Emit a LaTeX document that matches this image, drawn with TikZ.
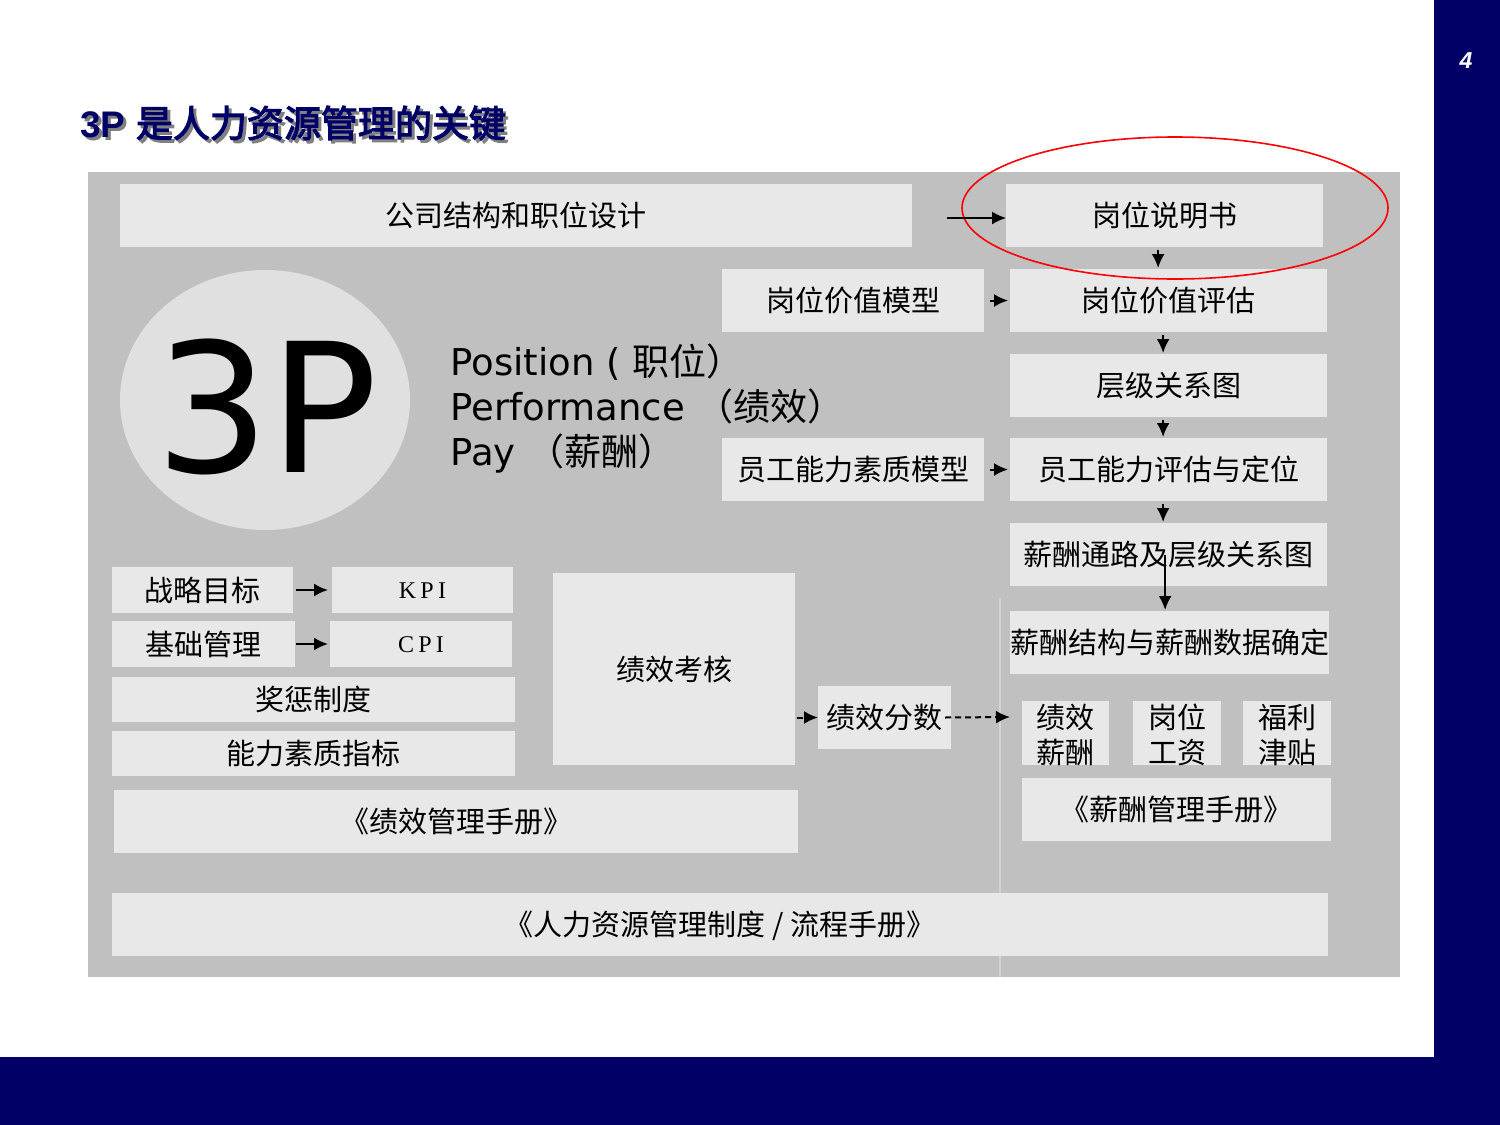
\documentclass[tikz,border=0pt]{standalone}
\usepackage{fontspec}
\usetikzlibrary{arrows.meta}
\newfontfamily\cjk{Noto Sans CJK SC}
\newfontfamily\cjkb[FakeBold=3]{Noto Sans CJK SC}
\newfontfamily\dv{DejaVu Sans}
\newfontfamily\arl{Liberation Sans}
\newfontfamily\tms[LetterSpace=18]{Liberation Serif}
\definecolor{navy}{HTML}{000066}
\definecolor{bgc}{HTML}{C0C0C0}
\definecolor{boxc}{HTML}{E8E8E8}
\definecolor{circc}{HTML}{E0E0E0}
\definecolor{linec}{HTML}{D2D2D2}
\newcommand{\twoline}[2]{\vbox{\baselineskip=17.5pt\lineskiplimit=-10pt\hbox{#1}\hbox{#2}}}
% \mybox[opts]{name}{x1}{y1}{x2}{y2}{text}  (pixel coordinates)
\newcommand{\mybox}[7][]{\node[box,#1,minimum width={(#5-#3)*0.5pt},minimum height={(#6-#4)*0.5pt}] (#2) at ({(#3+#5)/2},{(#4+#6)/2}) {#7};}
\begin{document}
\begin{tikzpicture}[x=0.5pt,y=-0.5pt,
  box/.style={fill=boxc, inner sep=0pt, outer sep=0pt, text=black, text height=11pt, text depth=0pt,
    font=\cjk\fontsize{14.5}{17.5}\selectfont},
  box2/.style={text height=30pt},
  latin/.style={font=\tms\fontsize{12}{14}\selectfont, text height=8pt},
  arr/.style={-{Latex[length=7pt,width=6.5pt]}, line width=1pt, black},
  darr/.style={arr, dash pattern=on 3pt off 2pt},
  ptxt/.style={anchor=base west, inner sep=0pt, font=\fontsize{18.5}{22}\selectfont}]
\useasboundingbox (0,0) rectangle (1500,1125);
% frame
\fill[navy] (1434,0) rectangle (1500,1125);
\fill[navy] (0,1057) rectangle (1500,1125);
\node[anchor=center, text=white, font=\arl\bfseries\itshape\fontsize{11.5}{13}\selectfont] (pg) at (1466,61) {4};
% title
\node[anchor=west, inner sep=0pt, text=black!50, font=\fontsize{18.5}{22}\selectfont] (tsh) at (83,126) {{\arl\bfseries 3P }{\cjkb 是人力资源管理的关键}};
\node[anchor=west, inner sep=0pt, text=navy, font=\fontsize{18.5}{22}\selectfont] (title) at (80,123) {{\arl\bfseries 3P }{\cjkb 是人力资源管理的关键}};
% background
\fill[bgc] (88,172) rectangle (1400,977);
\draw[linec, line width=0.6pt] (1000,598) -- (1000,977);
% 3P circle
\fill[circc] (265,400) ellipse [x radius=72.5pt, y radius=65pt];
\node[inner sep=0pt, font=\dv\fontsize{90}{90}\selectfont] (p3) at (267,407) {3P};
\node[ptxt] (pos) at (450,375) {{\dv Position (}\,\,{\cjk 职位）}};
\node[ptxt] (perf) at (450,420) {{\dv Performance }{\cjk （绩效）}};
\node[ptxt] (pay) at (450,465) {{\dv Pay }{\cjk （薪酬）}};
% right column
\mybox{co}{120}{184}{912}{247}{公司结构和职位设计}
\mybox{jd}{1006}{184}{1323}{247}{岗位说明书}
\mybox{jvm}{722}{269}{984}{332}{岗位价值模型}
\mybox{jve}{1010}{269}{1327}{332}{岗位价值评估}
\mybox{hier}{1010}{354}{1327}{417}{层级关系图}
\mybox{ecm}{722}{438}{984}{501}{员工能力素质模型}
\mybox{ece}{1010}{438}{1327}{501}{员工能力评估与定位}
\mybox{payh}{1010}{523}{1327}{586}{薪酬通路及层级关系图}
\mybox{pays}{1011}{611}{1328}{674}{薪酬结构与薪酬数据确定}
\mybox[box2]{pp}{1022}{701}{1109}{765}{\twoline{绩效}{薪酬}}
\mybox[box2]{jw}{1133}{701}{1221}{765}{\twoline{岗位}{工资}}
\mybox[box2]{ben}{1243}{701}{1331}{765}{\twoline{福利}{津贴}}
\mybox{paym}{1022}{778}{1331}{841}{《薪酬管理手册》}
% performance side
\mybox{strat}{112}{567}{293}{613}{战略目标}
\mybox[latin]{kpi}{332}{567}{513}{613}{KPI}
\mybox{basic}{112}{621}{295}{667}{基础管理}
\mybox[latin]{cpi}{330}{621}{512}{667}{CPI}
\mybox{rew}{112}{677}{515}{722}{奖惩制度}
\mybox{comp}{112}{731}{515}{776}{能力素质指标}
\mybox{pa}{553}{573}{795}{765}{绩效考核}
\mybox{ps}{818}{686}{951}{749}{绩效分数}
\mybox{perfm}{114}{790}{798}{853}{《绩效管理手册》}
\mybox{hrm}{112}{893}{1328}{956}{《人力资源管理制度 / 流程手册》}
% red ellipse
\draw[red, line width=0.8pt] (1175,208) ellipse [x radius=106.5pt, y radius=35.5pt];
% connectors
\coordinate (cos) at (947,218);
\draw[arr, line width=0.8pt] (cos) -- (cos -| jd.west);
\draw[arr, shorten <=1.5pt, shorten >=0.5pt] ([xshift=-3.2pt]jd.south) -- ([xshift=-3.2pt]jd.south |- jve.north);
\draw[arr, shorten <=3pt, shorten >=1pt] (jvm.east) -- (jvm.east -| jve.west);
\draw[arr, shorten <=1.5pt, shorten >=0.5pt] ([xshift=-2.7pt]jve.south) -- ([xshift=-2.7pt]hier.north);
\draw[arr, shorten <=1.5pt, shorten >=0.5pt] ([xshift=-2.7pt]hier.south) -- ([xshift=-2.7pt]ece.north);
\draw[arr, shorten <=3pt, shorten >=1pt] (ecm.east) -- (ecm.east -| ece.west);
\draw[arr, shorten <=1.5pt, shorten >=0.5pt] ([xshift=-2.7pt]ece.south) -- ([xshift=-2.7pt]payh.north);
\draw[arr, shorten >=0.5pt] ([xshift=-1.7pt]payh.center) -- ([xshift=-1.7pt]payh.center |- pays.north);
\draw[arr, shorten <=1.5pt, shorten >=2pt] (strat.east) -- (kpi.west);
\draw[arr, shorten <=0.5pt, shorten >=1pt] (basic.east) -- (cpi.west);
\draw[darr, shorten <=1pt] (ps.west -| pa.east) -- (ps.west);
\coordinate (ppin) at (1010,717);
\draw[darr] ([xshift=-3pt]ps.east) -- (ppin);
\end{tikzpicture}
\end{document}
